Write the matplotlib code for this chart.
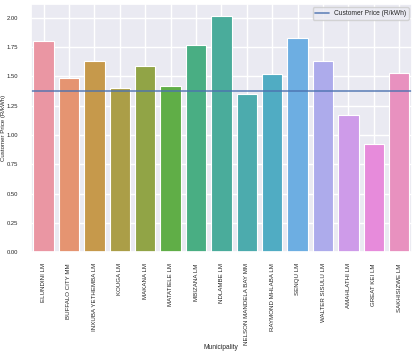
import matplotlib
matplotlib.use('Agg')
import matplotlib.pyplot as plt
import seaborn as sns

# 各市的電價資料
municipalities = ['ELUNDINI LM', 'BUFFALO CITY MM', 'INXUBA YETHEMBA LM', 'KOUGA LM',
                  'MAKANA LM', 'MATATIELE LM', 'MBIZANA LM', 'NDLAMBE LM',
                  'NELSON MANDELA BAY MM', 'RAYMOND MHLABA LM', 'SENQU LM',
                  'WALTER SISULU LM', 'AMAHLATHI LM', 'GREAT KEI LM', 'SAKHISIZWE LM']
prices = [1.80, 1.49, 1.63, 1.40, 1.59, 1.42, 1.77, 2.02,
          1.35, 1.52, 1.83, 1.63, 1.17, 0.92, 1.53]
customer_price = 1.38

sns.set_theme(style='darkgrid')
plt.rcParams['font.family'] = ['Liberation Sans', 'DejaVu Sans']

colors = [sns.desaturate(c, 0.75) for c in sns.husl_palette(len(municipalities), l=.7)]

fig = plt.figure(figsize=(4.17, 3.54), dpi=100)
ax = fig.add_axes([0.074, 0.288, 0.914, 0.701])

x = range(len(municipalities))
ax.bar(x, prices, width=0.8, color=colors, edgecolor='white', linewidth=0.8)
ax.axhline(customer_price, color='#4c72b0', alpha=0.85, linewidth=1.2,
           label='Customer Price (R/kWh)')

ax.set_xlim(-0.5, len(municipalities) - 0.5)
ax.set_ylim(0, 2.12)
ax.set_yticks([0, 0.25, 0.5, 0.75, 1.0, 1.25, 1.5, 1.75, 2.0])
ax.set_yticklabels([f'{v:.2f}' for v in ax.get_yticks()], fontsize=4.2)
ax.set_xticks(list(x))
ax.set_xticklabels(municipalities, rotation=90, fontsize=4.4)
ax.tick_params(axis='y', pad=3)
ax.tick_params(axis='x', pad=2)
ax.set_xlabel('Municipality', fontsize=4.8)
ax.xaxis.set_label_coords(0.5, -0.37)
# y 軸標籤直接放在圖的左邊
fig.text(4 / 417, 0.64, 'Customer Price (R/kWh)', rotation=90, ha='center', va='center',
         fontsize=4.4, color='#262626')
ax.legend(loc='upper right', fontsize=4.8)

fig.savefig('out.png', dpi=100)
